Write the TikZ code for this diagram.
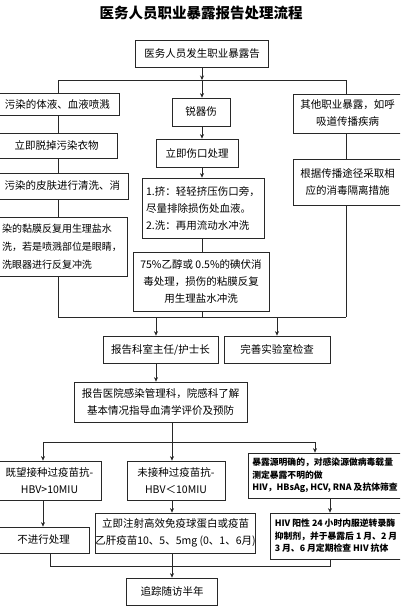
\documentclass[tikz,border=0pt]{standalone}
\usepackage{fontspec}
\setmainfont{Noto Sans CJK SC}
\usetikzlibrary{arrows.meta,calc}
\definecolor{lineblack}{RGB}{40,40,40}
\tikzset{
  box/.style={draw=lineblack, line width=0.7pt, inner sep=0pt, align=center,
    font=\fontsize{10.5}{17}\selectfont},
  lbox/.style={box, align=left},
  hbox/.style={box, align=left, font=\bfseries\fontsize{8.8}{12.5}\selectfont},
  link/.style={draw=lineblack, line width=0.7pt},
  arr/.style={link, -{Stealth[length=4.5pt,width=4pt]}},
}

\begin{document}
\begin{tikzpicture}[x=1pt,y=-1pt]
  % page in pixel units: y runs downward
  \useasboundingbox (0,0) rectangle (400,608);
  \clip (0,0) rectangle (400,608);

  \node[font=\bfseries\fontsize{14.5}{16}\selectfont] (title) at (201,13) {医务人员职业暴露报告处理流程};
  \node[box, minimum width=133pt, minimum height=27pt] (report) at (202,53.5) {医务人员发生职业暴露告};

  % three branches
  \coordinate (jl) at (58,80);
  \coordinate (jm) at (202,80);
  \coordinate (jr) at (346,80);

  % left column: splash
  \node[box, minimum width=123pt, minimum height=22pt] (fluid) at (57.5,104) {污染的体液、血液喷溅};
  \node[box, minimum width=121pt, minimum height=25pt] (strip) at (56.5,145.5) {立即脱掉污染衣物};
  \node[box, minimum width=131pt, minimum height=26pt] (skin) at (62.5,186) {污染的皮肤进行清洗、消};
  \node[lbox, minimum width=130pt, minimum height=59pt, font=\fontsize{10}{18}\selectfont] (mucosa) at (62,246.5)
    {染的黏膜反复用生理盐水\\洗，若是喷溅部位是眼睛，\\洗眼器进行反复冲洗};

  % middle column: sharp injury
  \node[box, minimum width=58pt, minimum height=28pt] (sharp) at (201,112) {锐器伤};
  \node[box, minimum width=82pt, minimum height=28pt] (wound) at (197,153) {立即伤口处理};
  \node[lbox, minimum width=122pt, minimum height=60pt] (squeeze) at (203,208)
    {1.挤：轻轻挤压伤口旁，\\尽量排除损伤处血液。\\2.洗：再用流动水冲洗};
  \node[box, minimum width=136pt, minimum height=59pt] (disinfect) at (201,281.5)
    {75\%乙醇或 0.5\%的碘伏消\\毒处理，损伤的粘膜反复\\用生理盐水冲洗};

  % right column: other exposure
  \node[box, minimum width=109pt, minimum height=39pt] (other) at (347.5,113.5) {其他职业暴露，如呼\\吸道传播疾病};
  \node[box, minimum width=109pt, minimum height=46pt] (isolate) at (347.5,182) {根据传播途径采取相\\应的消毒隔离措施};

  \coordinate (bl) at (58,317);
  \coordinate (bm) at (202,317);
  \coordinate (br) at (346,317);
  \coordinate (ca) at (156,317);
  \coordinate (cb) at (277,317);

  \node[box, minimum width=115pt, minimum height=27pt] (chief) at (160.5,349.5) {报告科室主任/护士长};
  \node[box, minimum width=106pt, minimum height=27pt] (lab) at (277,349.5) {完善实验室检查};
  \node[box, minimum width=173pt, minimum height=40pt] (infect) at (160.5,402)
    {报告医院感染管理科，院感科了解\\基本情况指导血清学评价及预防};

  \coordinate (cl) at (43,442);
  \coordinate (cm) at (172,442);
  \coordinate (cr) at (315,442);

  % serology
  \node[box, minimum width=103pt, minimum height=39pt] (immune) at (49.5,480.5) {既望接种过疫苗抗-\\HBV>10MIU};
  \node[box, minimum width=98pt, minimum height=39pt] (nonimmune) at (176,480.5) {未接种过疫苗抗-\\HBV＜10MIU};
  \node[hbox, minimum width=154pt, minimum height=45pt] (source) at (325,475.5)
    {暴露源明确的，对感染源做病毒载量\\测定暴露不明的做\\HIV，HBsAg, HCV, RNA 及抗体筛查};

  \node[box, minimum width=91pt, minimum height=26pt] (noaction) at (43.5,540) {不进行处理};
  \node[box, minimum width=159pt, minimum height=40pt] (vaccine) at (175.5,533)
    {立即注射高效免疫球蛋白或疫苗\\乙肝疫苗10、5、5mg (0、1、6月)};
  \node[hbox, minimum width=132pt, minimum height=46pt] (hivdrug) at (336,536)
    {HIV 阳性 24 小时内服逆转录酶\\抑制剂，并于暴露后 1 月、2 月\\3 月、6 月定期检查 HIV 抗体};

  \coordinate (el) at (50,566);
  \coordinate (em) at (172,566);
  \coordinate (er) at (330,566);
  \node[box, minimum width=91pt, minimum height=27pt] (follow) at (172,591.5) {追踪随访半年};

  % connectors
  \draw[arr] (report.south) -- (jm);
  \draw[link] (jl) -- (jr);
  \draw[link] (jl) -- (jl |- fluid.north);
  \draw[link] (fluid.south -| jl) -- (jl |- strip.north);
  \draw[link] (strip.south -| jl) -- (jl |- skin.north);
  \draw[link] (skin.south -| jl) -- (jl |- mucosa.north);
  \draw[link] (mucosa.south -| jl) -- (bl);

  \draw[arr] (jm) -- (jm |- sharp.north);
  \draw[arr] (sharp.south -| jm) -- (jm |- wound.north);
  \draw[arr] (wound.south -| jm) -- (jm |- squeeze.north);
  \draw[link] (squeeze.south -| jm) -- (jm |- disinfect.north);
  \draw[link] (disinfect.south -| jm) -- (bm);

  \draw[link] (jr) -- (jr |- other.north);
  \draw[link] (other.south -| jr) -- (jr |- isolate.north);
  \draw[link] (isolate.south -| jr) -- (br);

  \draw[link] (bl) -- (br);
  \draw[arr] (ca) -- (ca |- chief.north);
  \draw[arr] (cb) -- (cb |- lab.north);
  \draw[arr] (chief.south -| ca) -- (ca |- infect.north);

  \draw[link] (infect.south -| cm) -- (cm);
  \draw[link] (cl) -- (cr);
  \draw[arr] (cl) -- (cl |- immune.north);
  \draw[arr] (cm) -- (cm |- nonimmune.north);
  \draw[arr] (cr) -- (cr |- source.north);

  \draw[arr] (immune.south -| cl) -- (cl |- noaction.north);
  \draw[arr] (nonimmune.south -| cm) -- (cm |- vaccine.north);
  \draw[arr] (source.south -| er) -- (er |- hivdrug.north);

  \draw[link] (noaction.south -| el) -- (el) -- (er) -- (hivdrug.south -| er);
  \draw[link] (vaccine.south -| em) -- (em);
  \draw[arr] (em) -- (follow.north);
\end{tikzpicture}
\end{document}
